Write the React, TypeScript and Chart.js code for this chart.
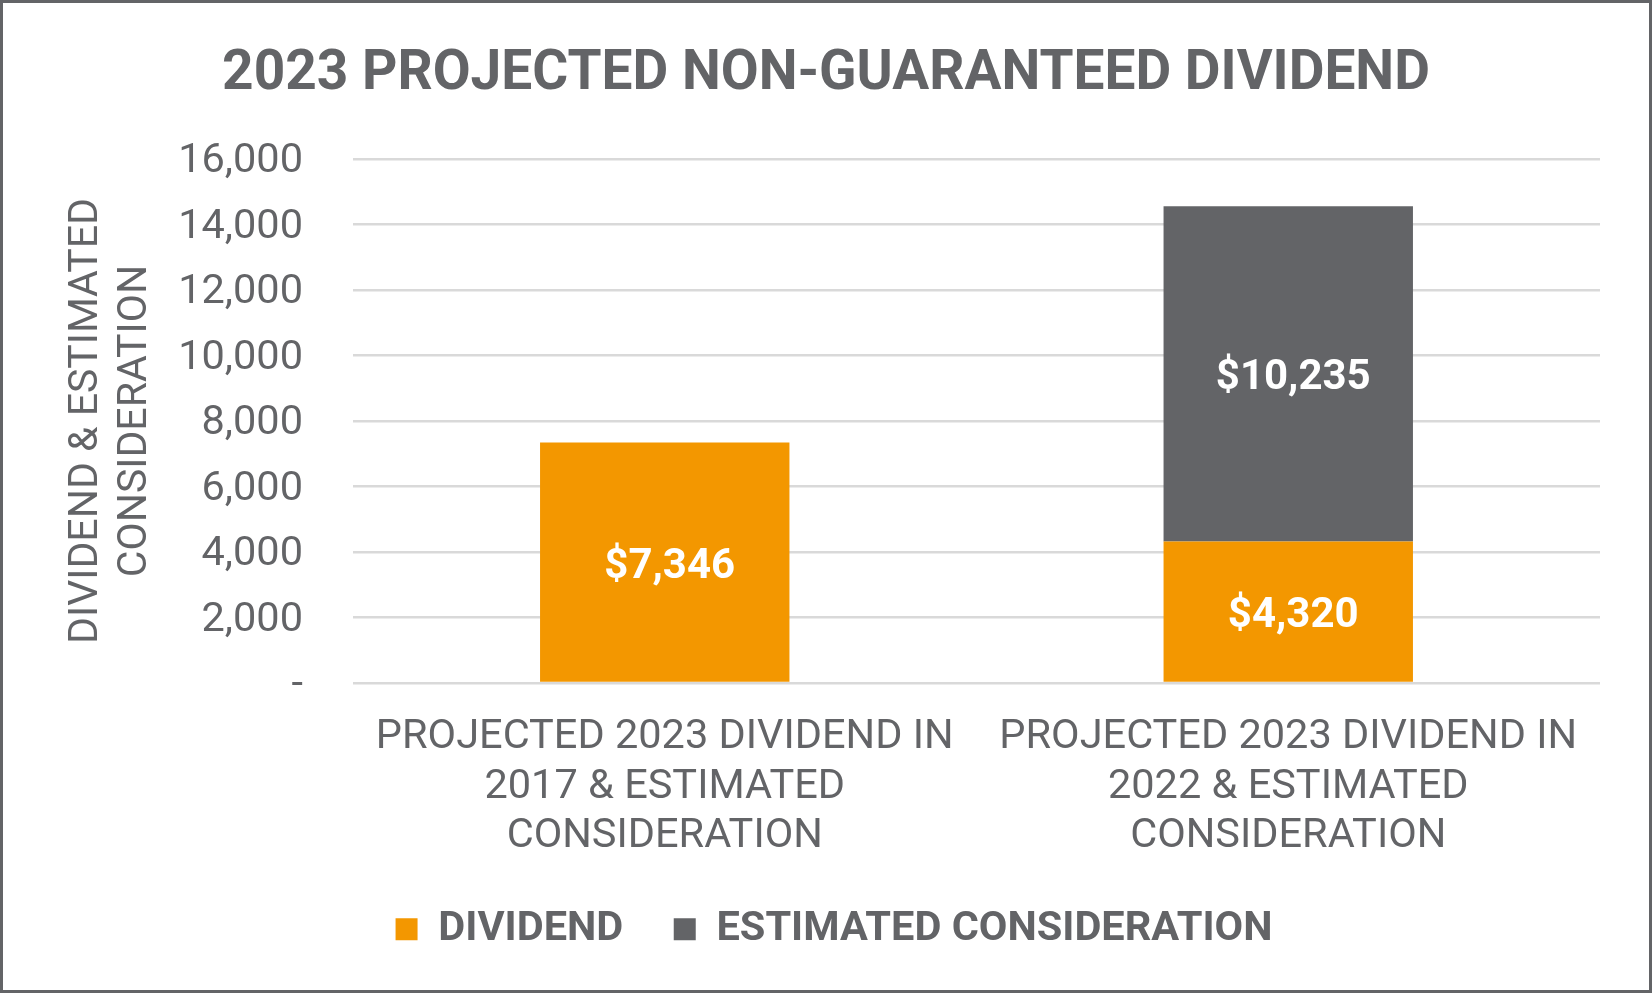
import React, { useEffect, useRef } from "react"
import { Chart, registerables, Plugin } from "chart.js"

Chart.register(...registerables)

// chart data
const categories = [
  ["PROJECTED 2023 DIVIDEND IN", "2017 & ESTIMATED", "CONSIDERATION"],
  ["PROJECTED 2023 DIVIDEND IN", "2022 & ESTIMATED", "CONSIDERATION"],
]
const dividend = [7346, 4320]
const estimatedConsideration = [null, 10235]
const yTickValues = [0, 2000, 4000, 6000, 8000, 10000, 12000, 14000, 16000]

const ORANGE = "#F39700"
const GRAY = "#636467"
const TEXT = "#636467"

// white "$x,xxx" labels in the middle of each bar segment
const valueLabels: Plugin<"bar"> = {
  id: "valueLabels",
  afterDatasetsDraw(chart) {
    const { ctx } = chart
    ctx.save()
    ctx.font = "bold 42px Roboto"
    ctx.fillStyle = "#ffffff"
    ctx.textAlign = "center"
    ctx.textBaseline = "middle"
    chart.data.datasets.forEach((ds, i) => {
      const meta = chart.getDatasetMeta(i)
      meta.data.forEach((bar: any, j) => {
        const v = ds.data[j] as number | null
        if (!v) return
        const { x, y, base } = bar.getProps(["x", "y", "base"], true)
        ctx.fillText("$" + v.toLocaleString("en-US"), x + 5, (y + base) / 2 + 5)
      })
    })
    ctx.restore()
  },
}

// the legend sits a little right of the chart's centre
const legendShift: Plugin<"bar"> = {
  id: "legendShift",
  afterLayout(chart) {
    const lg: any = chart.legend
    if (lg) {
      lg.left += 8
      lg.right += 8
    }
  },
}

const DividendChart = () => {
  const canvasRef = useRef<HTMLCanvasElement | null>(null)

  useEffect(() => {
    const ctx = canvasRef.current?.getContext("2d")
    if (!ctx) return
    Chart.defaults.font.family = "Roboto"
    Chart.defaults.color = TEXT

    const chart = new Chart(ctx, {
      type: "bar",
      data: {
        labels: categories,
        datasets: [
          {
            label: "DIVIDEND",
            data: dividend,
            backgroundColor: ORANGE,
            borderWidth: 0,
          },
          {
            label: "ESTIMATED CONSIDERATION",
            data: estimatedConsideration,
            backgroundColor: GRAY,
            borderWidth: 0,
          },
        ],
      },
      options: {
        responsive: false,
        animation: false,
        devicePixelRatio: 1,
        layout: { padding: { left: 49, right: 49, top: 0, bottom: 30 } },
        datasets: {
          bar: { categoryPercentage: 1, barPercentage: 0.4 },
        },
        plugins: {
          title: {
            display: true,
            text: "2023 PROJECTED NON-GUARANTEED DIVIDEND",
            color: TEXT,
            font: { size: 55, weight: "bold", lineHeight: 1.2 },
            padding: { top: 39, bottom: 51 },
          },
          legend: {
            position: "bottom",
            labels: {
              boxWidth: 22,
              boxHeight: 22,
              padding: 50.5,
              color: TEXT,
              font: { size: 41.5, weight: "bold" },
            },
          },
          tooltip: { enabled: false },
        },
        scales: {
          x: {
            stacked: true,
            grid: { display: false },
            border: { display: false },
            ticks: {
              color: TEXT,
              font: { size: 41.5, lineHeight: 1.193 },
              padding: 22,
              maxRotation: 0,
              autoSkip: false,
            },
            afterFit: (scale) => {
              scale.height = 175
            },
          },
          y: {
            stacked: true,
            min: 0,
            max: 16000,
            afterBuildTicks: (scale) => {
              scale.ticks = yTickValues.map((value) => ({ value }))
            },
            grid: { color: "#D9D9D9", lineWidth: 2.5, drawTicks: false },
            border: { display: false },
            ticks: {
              color: TEXT,
              font: { size: 41.5 },
              padding: 50,
              labelOffset: 3,
              callback: (v) => (Number(v) === 0 ? "-" : Number(v).toLocaleString("en-US")),
            },
            title: {
              display: true,
              text: ["DIVIDEND & ESTIMATED", "CONSIDERATION"],
              color: TEXT,
              font: { size: 41, lineHeight: 1.207 },
              padding: { top: 10, bottom: 0 },
            },
            afterFit: (scale) => {
              scale.width = 301
            },
          },
        },
      },
      plugins: [valueLabels, legendShift],
    })

    return () => chart.destroy()
  }, [])

  return <canvas ref={canvasRef} width={1646} height={987} style={{ display: "block" }} />
}

export default function App() {
  return (
    <div
      style={{
        position: "absolute",
        left: 0,
        top: 0,
        width: 1652,
        height: 993,
        boxSizing: "border-box",
        border: `3px solid ${GRAY}`,
        background: "#ffffff",
      }}
    >
      <DividendChart />
    </div>
  )
}
